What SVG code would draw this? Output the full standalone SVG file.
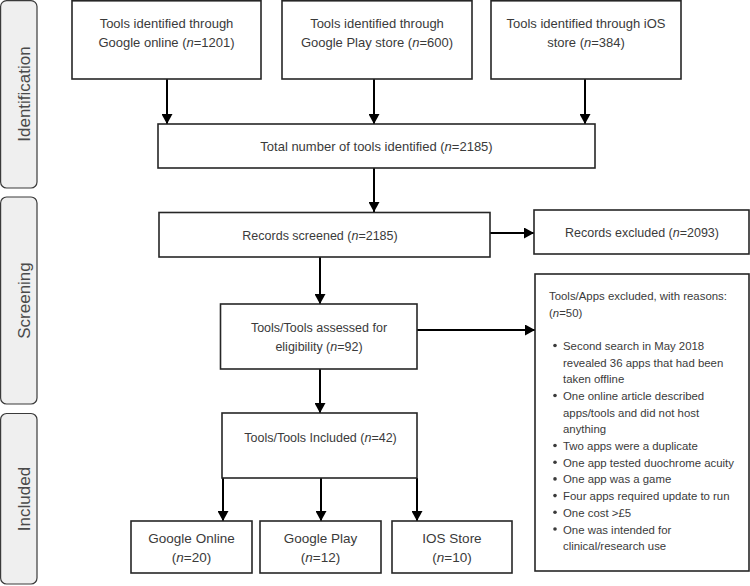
<svg xmlns="http://www.w3.org/2000/svg" width="750" height="586" viewBox="0 0 750 586">
<defs>
<marker id="ah" markerUnits="userSpaceOnUse" markerWidth="11" markerHeight="11" refX="10" refY="5.5" orient="auto">
<path d="M0,0 L10,5.5 L0,11 z" fill="#000"/>
</marker>
<style>
.box{fill:#fff;stroke:#262626;stroke-width:1.6}
.side{fill:#efefef;stroke:#3a3a3a;stroke-width:1.2}
.t{font-family:"Liberation Sans",Arial,sans-serif;font-size:13px;fill:#3a3a3a;text-anchor:middle}
.m{font-size:12.5px}
.b{font-size:13.5px}
.r{font-family:"Liberation Sans",Arial,sans-serif;font-size:11.4px;fill:#3a3a3a}
.s{font-family:"Liberation Sans",Arial,sans-serif;font-size:17px;fill:#4a4a4a;text-anchor:middle}
.c{stroke:#000;stroke-width:2;fill:none}
i,.i{font-style:italic}
</style>
</defs>
<g id="sidebar">
<g id="stage-identification"><rect class="side" x="0.6" y="0.6" width="36.4" height="187.4" rx="6"/><text class="s" transform="translate(30,94) rotate(-90)">Identification</text></g>
<g id="stage-screening"><rect class="side" x="0.6" y="197" width="36.4" height="207" rx="6"/><text class="s" transform="translate(30,300.5) rotate(-90)">Screening</text></g>
<g id="stage-included"><rect class="side" x="0.6" y="413.5" width="36.4" height="170.5" rx="6"/><text class="s" transform="translate(30,499) rotate(-90)">Included</text></g>
</g>
<g id="connectors">
<line class="c" x1="167" y1="79" x2="167" y2="124" marker-end="url(#ah)"/>
<line class="c" x1="374" y1="79" x2="374" y2="124" marker-end="url(#ah)"/>
<line class="c" x1="585" y1="79" x2="585" y2="124" marker-end="url(#ah)"/>
<line class="c" x1="374" y1="168" x2="374" y2="212" marker-end="url(#ah)"/>
<line class="c" x1="490" y1="233" x2="534" y2="233" marker-end="url(#ah)"/>
<line class="c" x1="320" y1="257" x2="320" y2="304" marker-end="url(#ah)"/>
<line class="c" x1="417" y1="330" x2="535" y2="330" marker-end="url(#ah)"/>
<line class="c" x1="320" y1="369" x2="320" y2="413" marker-end="url(#ah)"/>
<line class="c" x1="223" y1="478" x2="223" y2="521" marker-end="url(#ah)"/>
<line class="c" x1="321" y1="478" x2="321" y2="521" marker-end="url(#ah)"/>
<line class="c" x1="417" y1="478" x2="417" y2="521" marker-end="url(#ah)"/>
</g>
<g id="google-online-identified"><rect class="box" x="72" y="0.8" width="189" height="78.2"/>
<text class="t" x="166.5" y="27.5">Tools identified through</text>
<text class="t" x="166.5" y="46.5">Google online (<tspan class="i">n</tspan>=1201)</text></g>
<g id="google-play-identified"><rect class="box" x="282" y="0.8" width="190" height="78.2"/>
<text class="t" x="377" y="27.5">Tools identified through</text>
<text class="t" x="377" y="46.5">Google Play store (<tspan class="i">n</tspan>=600)</text></g>
<g id="ios-identified"><rect class="box" x="491" y="0.8" width="190" height="78.2"/>
<text class="t" x="586" y="27.5">Tools identified through iOS</text>
<text class="t" x="586" y="46.5">store (<tspan class="i">n</tspan>=384)</text></g>
<g id="total-identified"><rect class="box" x="158" y="124" width="437" height="44"/>
<text class="t" x="376.5" y="150.5">Total number of tools identified (<tspan class="i">n</tspan>=2185)</text></g>
<g id="records-screened"><rect class="box" x="159" y="212.5" width="331" height="44.5"/>
<text class="t m" x="320" y="239.5">Records screened (<tspan class="i">n</tspan>=2185)</text></g>
<g id="records-excluded"><rect class="box" x="534" y="210" width="215" height="44"/>
<text class="t m" x="642" y="237">Records excluded (<tspan class="i">n</tspan>=2093)</text></g>
<g id="assessed-eligibility"><rect class="box" x="220.5" y="304" width="196.5" height="65"/>
<text class="t m" x="319" y="331.5">Tools/Tools assessed for</text>
<text class="t m" x="319" y="350.5">eligibility (<tspan class="i">n</tspan>=92)</text></g>
<g id="apps-excluded"><rect class="box" x="535" y="274" width="214" height="297"/>
<text class="r" x="549" y="300">Tools/Apps excluded, with reasons:</text>
<text class="r" x="549" y="317">(<tspan class="i">n</tspan>=50)</text>
<g class="r">
<circle cx="555" cy="345.5" r="1.8" fill="#3a3a3a"/>
<circle cx="555" cy="395.5" r="1.8" fill="#3a3a3a"/>
<circle cx="555" cy="445.5" r="1.8" fill="#3a3a3a"/>
<circle cx="555" cy="462.2" r="1.8" fill="#3a3a3a"/>
<circle cx="555" cy="478.9" r="1.8" fill="#3a3a3a"/>
<circle cx="555" cy="495.6" r="1.8" fill="#3a3a3a"/>
<circle cx="555" cy="512.3" r="1.8" fill="#3a3a3a"/>
<circle cx="555" cy="529" r="1.8" fill="#3a3a3a"/>
</g>
<text class="r" x="563" y="350">Second search in May 2018</text>
<text class="r" x="563" y="366.7">revealed 36 apps that had been</text>
<text class="r" x="563" y="383.4">taken offline</text>
<text class="r" x="563" y="400">One online article described</text>
<text class="r" x="563" y="416.7">apps/tools and did not host</text>
<text class="r" x="563" y="433.4">anything</text>
<text class="r" x="563" y="450">Two apps were a duplicate</text>
<text class="r" x="563" y="466.7">One app tested duochrome acuity</text>
<text class="r" x="563" y="483.4">One app was a game</text>
<text class="r" x="563" y="500.1">Four apps required update to run</text>
<text class="r" x="563" y="516.8">One cost &gt;£5</text>
<text class="r" x="563" y="533.5">One was intended for</text>
<text class="r" x="563" y="550.2">clinical/research use</text>
</g>
<g id="included"><rect class="box" x="222" y="413" width="195" height="65"/>
<text class="t m" x="320.5" y="441.5">Tools/Tools Included (<tspan class="i">n</tspan>=42)</text></g>
<g id="google-online-included"><rect class="box" x="131" y="521" width="121" height="52"/>
<text class="t b" x="191.5" y="542.5">Google Online</text>
<text class="t b" x="191.5" y="561.5">(<tspan class="i">n</tspan>=20)</text></g>
<g id="google-play-included"><rect class="box" x="260" y="521" width="121" height="52"/>
<text class="t b" x="320.5" y="542.5">Google Play</text>
<text class="t b" x="320.5" y="561.5">(<tspan class="i">n</tspan>=12)</text></g>
<g id="ios-included"><rect class="box" x="392" y="521" width="120" height="52"/>
<text class="t b" x="452" y="542.5">IOS Store</text>
<text class="t b" x="452" y="561.5">(<tspan class="i">n</tspan>=10)</text></g>
</svg>
